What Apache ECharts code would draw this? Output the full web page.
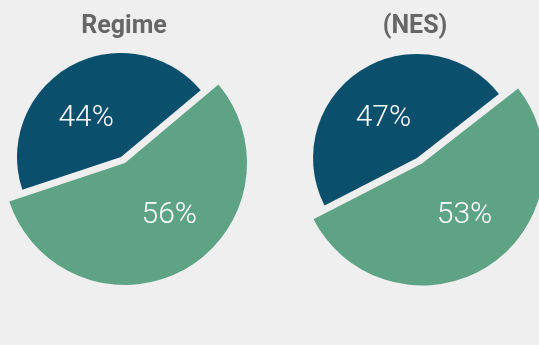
<!DOCTYPE html>
<html>
<head>
<meta charset="utf-8">
<script src="https://cdn.jsdelivr.net/npm/echarts@6/dist/echarts.min.js"></script>
<style>
  html, body { margin: 0; padding: 0; background: #efefef; }
  #chart { width: 539px; height: 345px; }
</style>
</head>
<body>
<div id="chart"></div>
<script>
// Share of respondents, two surveys side by side
const panelTitles = ['Regime', '(NES)'];
const categories = ['A', 'B'];
const regimeShares = [44, 56];
const nesShares = [47, 53];

const BLUE = '#0a4f6c';
const GREEN = '#5fa387';

// per-panel geometry: the green wedge is drawn larger and nudged away from the blue one
const panels = [
  { shares: regimeShares, start: 40, blue: ['121', '157'], green: ['125', '163'],
    blueShift: [-8, 10], greenShift: [13, -3], titleX: 119 },
  { shares: nesShares, start: 38, blue: ['417', '158'], green: ['422', '163.5'],
    blueShift: [-4, 7], greenShift: [8, -2], titleX: 410 }
];

// green goes first so it sweeps clockwise from the upper right
function pieData(shares, showIndex) {
  const order = [1, 0];
  return order.map(function (i) {
    const visible = i === showIndex;
    return {
      name: categories[i],
      value: shares[i],
      itemStyle: { color: visible ? (i === 0 ? BLUE : GREEN) : 'rgba(0,0,0,0)' },
      label: { show: visible }
    };
  });
}

const series = [];
panels.forEach(function (p) {
  [0, 1].forEach(function (idx) {
    const shift = idx === 0 ? p.blueShift : p.greenShift;
    series.push({
      type: 'pie',
      silent: true,
      animation: false,
      clockwise: true,
      startAngle: p.start,
      center: idx === 0 ? p.blue : p.green,
      radius: idx === 0 ? 104 : 122,
      avoidLabelOverlap: false,
      label: {
        position: 'inside',
        formatter: '{c}%',
        color: '#ffffff',
        fontFamily: 'Roboto',
        fontWeight: 300,
        fontSize: 30
      },
      labelLine: { show: false },
      labelLayout: function () { return { dx: shift[0], dy: shift[1] }; },
      emphasis: { disabled: true },
      data: pieData(p.shares, idx)
    });
  });
});

const chart = echarts.init(document.getElementById('chart'), null, { renderer: 'canvas' });
chart.setOption({
  backgroundColor: '#efefef',
  title: panels.map(function (p, i) {
    return {
      text: panelTitles[i],
      left: p.titleX,
      top: 9,
      textAlign: 'center',
      textStyle: { fontFamily: 'Roboto', fontWeight: 'bold', fontSize: 25, color: '#666666' }
    };
  }),
  series: series
});
</script>
</body>
</html>
